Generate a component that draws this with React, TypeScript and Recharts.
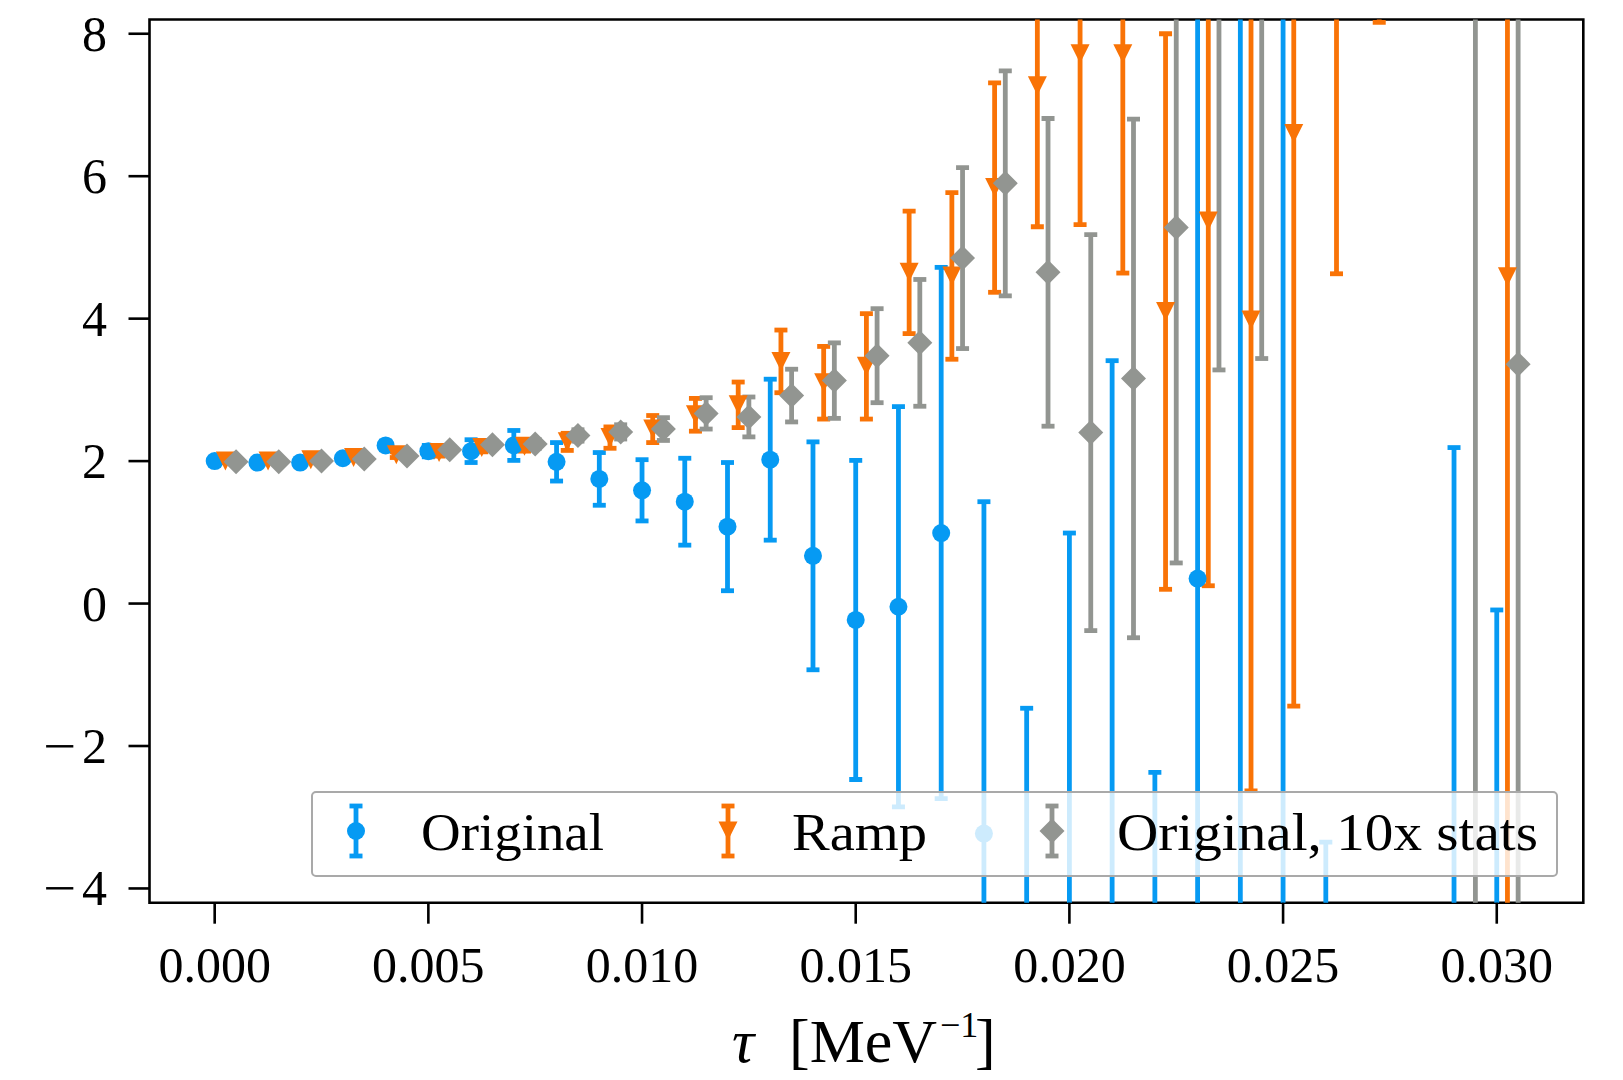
import React from 'react';
import { ComposedChart, Scatter, XAxis, YAxis, ErrorBar, ReferenceArea, Legend } from 'recharts';

// ---- data ----
const origX = [0.0, 0.001, 0.002, 0.003, 0.004, 0.005, 0.006, 0.007, 0.008, 0.009, 0.010, 0.011, 0.012, 0.013, 0.014, 0.015, 0.016, 0.017, 0.018, 0.019, 0.020, 0.021, 0.022, 0.023, 0.024, 0.025, 0.026, 0.029, 0.030];
const origY = [2.00, 1.98, 1.98, 2.04, 2.22, 2.14, 2.14, 2.22, 1.99, 1.75, 1.59, 1.43, 1.08, 2.02, 0.67, -0.23, -0.045, 0.99, -3.23, -6.5, -6.0, -7.0, -5.5, 0.35, -6.0, -7.0, -5.0, -8.0, -5.5];
const origErr = [0.02, 0.02, 0.03, 0.04, 0.06, 0.08, 0.16, 0.21, 0.27, 0.37, 0.43, 0.61, 0.90, 1.13, 1.60, 2.24, 2.81, 3.73, 4.66, 5.03, 6.99, 10.41, 3.13, 9.0, 16.0, 17.0, 1.65, 10.19, 5.41];

const rampX = [0.00025, 0.00125, 0.00225, 0.00325, 0.00425, 0.00525, 0.00625, 0.00725, 0.00825, 0.00925, 0.01025, 0.01125, 0.01225, 0.01325, 0.01425, 0.01525, 0.01625, 0.01725, 0.01825, 0.01925, 0.02025, 0.02125, 0.02225, 0.02325, 0.02425, 0.02525, 0.02625, 0.02725, 0.03025];
const rampY = [2.00, 2.00, 2.02, 2.05, 2.09, 2.12, 2.19, 2.21, 2.27, 2.33, 2.45, 2.65, 2.79, 3.40, 3.10, 3.33, 4.65, 4.60, 5.84, 7.27, 7.72, 7.72, 4.10, 5.37, 3.98, 6.60, 10.5, 11.0, 4.59];
const rampErr = [0.02, 0.02, 0.03, 0.03, 0.04, 0.05, 0.06, 0.07, 0.12, 0.15, 0.19, 0.23, 0.32, 0.44, 0.51, 0.74, 0.86, 1.17, 1.47, 1.98, 2.40, 3.08, 3.90, 5.12, 6.61, 8.04, 5.87, 2.84, 10.0];

const statsX = [0.0005, 0.0015, 0.0025, 0.0035, 0.0045, 0.0055, 0.0065, 0.0075, 0.0085, 0.0095, 0.0105, 0.0115, 0.0125, 0.0135, 0.0145, 0.0155, 0.0165, 0.0175, 0.0185, 0.0195, 0.0205, 0.0215, 0.0225, 0.0235, 0.0245, 0.0295, 0.0305];
const statsY = [1.99, 1.99, 2.00, 2.03, 2.07, 2.16, 2.23, 2.24, 2.36, 2.41, 2.45, 2.67, 2.62, 2.92, 3.13, 3.48, 3.66, 4.85, 5.90, 4.65, 2.40, 3.16, 5.28, 9.5, 10.0, 10.0, 3.36];
const statsErr = [0.01, 0.01, 0.02, 0.02, 0.03, 0.04, 0.05, 0.06, 0.08, 0.10, 0.16, 0.22, 0.28, 0.37, 0.53, 0.66, 0.89, 1.27, 1.58, 2.16, 2.78, 3.64, 4.71, 6.22, 6.56, 16.0, 9.0];

const xTicks = [0, 0.005, 0.01, 0.015, 0.02, 0.025, 0.03];
const yTicks = [-4, -2, 0, 2, 4, 6, 8];
const seriesNames = ['Original', 'Ramp', 'Original, 10x stats'];

const build = (xs: number[], ys: number[], es: number[]) => xs.map((x, i) => ({ x, y: ys[i], e: es[i] }));
const origData = build(origX, origY, origErr);
const rampData = build(rampX, rampY, rampErr);
const statsData = build(statsX, statsY, statsErr);

// ---- style ----
const BLUE = '#069AF3';
const ORANGE = '#F97306';
const GRAY = '#929591';
const FONT = '"Liberation Serif", "Times New Roman", serif';

const W = 1623;
const H = 1080;
const L = 149.5;
const R = 1583.3;
const T = 19.5;
const B = 902.7;
const X_DOMAIN: [number, number] = [-0.001525, 0.032025];
const Y_DOMAIN: [number, number] = [-4.2, 8.2];
const BAR_W = 4.8;
const CAP = 6.5;
const CLIP_ID = 'plot-area-clip';

const Circle = (p: any) => <circle cx={p.cx} cy={p.cy} r={9} fill={BLUE} />;
const Tri = (p: any) => (
  <path d={`M${p.cx - 9.5},${p.cy - 9.5}L${p.cx + 9.5},${p.cy - 9.5}L${p.cx},${p.cy + 9.5}Z`} fill={ORANGE} />
);
const Diamond = (p: any) => (
  <path d={`M${p.cx},${p.cy - 12.5}L${p.cx + 12.5},${p.cy}L${p.cx},${p.cy + 12.5}L${p.cx - 12.5},${p.cy}Z`} fill={GRAY} />
);

const XTick = (props: any) => (
  <text x={props.x} y={B + 79} textAnchor="middle" fontFamily={FONT} fontSize={50} fill="#000">
    {Number(props.payload.value).toFixed(3)}
  </text>
);
const YTick = (props: any) => {
  const v = Number(props.payload.value);
  return (
    <text x={107} y={props.y + 17} textAnchor="end" fontFamily={FONT} fontSize={50} fill="#000">
      {v < 0 && (
        <tspan textLength={33} lengthAdjust="spacingAndGlyphs">
          {'\u2212'}
        </tspan>
      )}
      <tspan dx={v < 0 ? 6 : 0}>{String(Math.abs(v))}</tspan>
    </text>
  );
};

const XLabel = () => (
  <text y={1061.7} fontFamily={FONT} fontSize={62} fill="#000">
    <tspan x={732} fontStyle="italic">τ</tspan>
    <tspan x={789}>[MeV</tspan>
    <tspan x={940} y={1037} fontSize={36}>{'\u22121'}</tspan>
    <tspan x={975} y={1061.7}>]</tspan>
  </text>
);

const LEG_L = 311.7;
const LEG_T = 792.3;
const LEG_W = 1559.3 - LEG_L;
const LEG_H = 878.3 - LEG_T;

const LegendMark = ({ x, color, kind }: { x: number; color: string; kind: string }) => {
  const cy = 40;
  return (
    <g>
      <line x1={x} x2={x} y1={15} y2={65} stroke={color} strokeWidth={BAR_W} />
      <line x1={x - CAP} x2={x + CAP} y1={15} y2={15} stroke={color} strokeWidth={BAR_W} />
      <line x1={x - CAP} x2={x + CAP} y1={65} y2={65} stroke={color} strokeWidth={BAR_W} />
      {kind === 'c' && <Circle cx={x} cy={cy} />}
      {kind === 't' && <Tri cx={x} cy={cy} />}
      {kind === 'd' && <Diamond cx={x} cy={cy} />}
    </g>
  );
};

const LegendBox = () => (
  <div
    style={{
      position: 'relative',
      width: LEG_W,
      height: LEG_H,
      boxSizing: 'border-box',
      border: '2px solid #a9a9a9',
      borderRadius: 5,
      background: 'rgba(255,255,255,0.8)',
    }}
  >
    <svg width={LEG_W} height={LEG_H} style={{ position: 'absolute', left: -2, top: -2, overflow: 'visible' }}>
      <LegendMark x={45} color={BLUE} kind="c" />
      <LegendMark x={417} color={ORANGE} kind="t" />
      <LegendMark x={741} color={GRAY} kind="d" />
      <text x={110} y={58.7} fontFamily={FONT} fontSize={52} textLength={183} lengthAdjust="spacingAndGlyphs" fill="#000">{seriesNames[0]}</text>
      <text x={481} y={58.7} fontFamily={FONT} fontSize={52} textLength={135} lengthAdjust="spacingAndGlyphs" fill="#000">{seriesNames[1]}</text>
      <text x={806} y={58.7} fontFamily={FONT} fontSize={52} textLength={421} lengthAdjust="spacingAndGlyphs" fill="#000">{seriesNames[2]}</text>
    </svg>
  </div>
);

const clipCss = `
.recharts-errorBars, .recharts-errorBar,
.recharts-wrapper > svg.recharts-surface line[stroke="${BLUE}"],
.recharts-wrapper > svg.recharts-surface line[stroke="${ORANGE}"],
.recharts-wrapper > svg.recharts-surface line[stroke="${GRAY}"] { clip-path: url(#${CLIP_ID}); }
`;

export default function App() {
  return (
    <div style={{ position: 'absolute', left: 0, top: 0, width: W, height: H, background: '#fff' }}>
      <style>{clipCss}</style>
      <svg width={0} height={0} style={{ position: 'absolute', left: 0, top: 0 }}>
        <defs>
          <clipPath id={CLIP_ID} clipPathUnits="userSpaceOnUse">
            <rect x={L} y={T} width={R - L} height={B - T} />
          </clipPath>
        </defs>
      </svg>
      <ComposedChart width={W} height={H} margin={{ top: T, right: W - R, bottom: 0, left: 0 }}>
        <XAxis
          type="number"
          dataKey="x"
          domain={X_DOMAIN}
          allowDataOverflow
          ticks={xTicks}
          interval={0}
          height={H - B}
          axisLine={false}
          tickLine={{ stroke: '#000', strokeWidth: 2.6 }}
          tickSize={21}
          tick={<XTick />}
          label={() => <XLabel />}
        />
        <YAxis
          type="number"
          dataKey="y"
          domain={Y_DOMAIN}
          allowDataOverflow
          ticks={yTicks}
          interval={0}
          width={L}
          axisLine={false}
          tickLine={{ stroke: '#000', strokeWidth: 2.6 }}
          tickSize={21}
          tick={<YTick />}
        />
        <Scatter name={seriesNames[0]} data={origData} dataKey="y" fill={BLUE} shape={Circle} isAnimationActive={false}>
          <ErrorBar dataKey="e" direction="y" width={CAP} stroke={BLUE} strokeWidth={BAR_W} isAnimationActive={false} />
        </Scatter>
        <Scatter name={seriesNames[1]} data={rampData} dataKey="y" fill={ORANGE} shape={Tri} isAnimationActive={false}>
          <ErrorBar dataKey="e" direction="y" width={CAP} stroke={ORANGE} strokeWidth={BAR_W} isAnimationActive={false} />
        </Scatter>
        <Scatter name={seriesNames[2]} data={statsData} dataKey="y" fill={GRAY} shape={Diamond} isAnimationActive={false}>
          <ErrorBar dataKey="e" direction="y" width={CAP} stroke={GRAY} strokeWidth={BAR_W} isAnimationActive={false} />
        </Scatter>
        <ReferenceArea
          x1={X_DOMAIN[0]}
          x2={X_DOMAIN[1]}
          y1={Y_DOMAIN[0]}
          y2={Y_DOMAIN[1]}
          fill="none"
          fillOpacity={0}
          stroke="#000"
          strokeWidth={2.6}
        />
        <Legend
          layout="vertical"
          align="center"
          verticalAlign="middle"
          content={<LegendBox />}
          wrapperStyle={{ position: 'absolute', left: LEG_L - 1, top: LEG_T - 1, width: LEG_W, height: LEG_H, margin: 0, padding: 0 }}
        />
      </ComposedChart>
    </div>
  );
}
